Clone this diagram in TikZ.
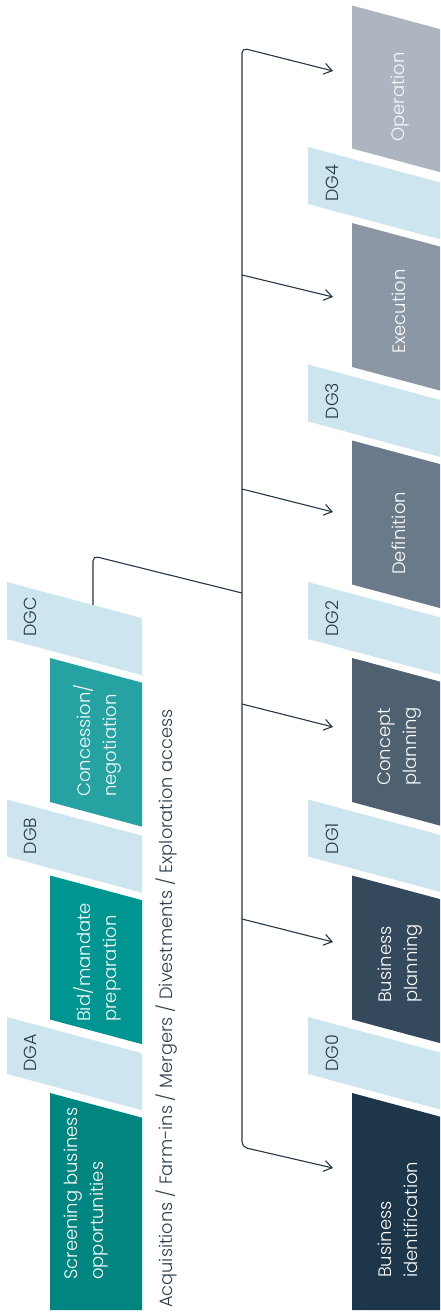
\documentclass[tikz,border=0pt]{standalone}
\usepackage{fontspec}
\setmainfont{Poppins}[UprightFont=* Light, BoldFont=* Regular]
\usetikzlibrary{arrows.meta}
\definecolor{cScreen}{HTML}{008580}
\definecolor{cBid}{HTML}{009590}
\definecolor{cConc}{HTML}{26A2A2}
\definecolor{cBand}{HTML}{CCE5EF}
\definecolor{cIdent}{HTML}{1D3649}
\definecolor{cPlan}{HTML}{35495D}
\definecolor{cConcept}{HTML}{4F6071}
\definecolor{cDef}{HTML}{6A7A8A}
\definecolor{cExec}{HTML}{8B97A4}
\definecolor{cOper}{HTML}{ADB5C1}
\definecolor{cDGtext}{HTML}{243746}
\definecolor{cMain}{HTML}{2D3E4E}
\definecolor{cLine}{HTML}{243746}
\newcommand\slantbox[5]{\fill[#5] (#1,#3) -- (#2,{#3+0.268*(#2-#1)}) -- (#2,{#3+#4+0.268*(#2-#1)}) -- (#1,{#3+#4}) -- cycle;}
\newcommand\slanttop[4]{\fill[#4] (#1,#3) -- (#2,{#3+0.268*(#2-#1)}) -- (#2,1310) -- (#1,1310) -- cycle;}
\begin{document}
\begin{tikzpicture}[x=1pt,y=-1pt,
  lbl/.style={rotate=90, anchor=west, inner sep=0pt, align=left, text=white, font=\fontsize{18}{26}\selectfont},
  dglbl/.style={rotate=90, anchor=west, inner sep=0pt, text=cDGtext, font=\fontsize{17.5}{20}\selectfont},
  mainlbl/.style={rotate=90, anchor=west, inner sep=0pt, text=cMain, font=\fontsize{17.8}{20}\selectfont},
  conn/.style={draw=cLine, line width=1.1pt, rounded corners=5pt},
  tip/.style={-{Straight Barb[length=8pt,width=11pt]}}
]
\useasboundingbox (0,0) rectangle (440,1313);
\clip (0,0) rectangle (440,1313);
% left column
\slantbox{7}{142}{582}{57}{cBand}
\slantbox{50}{142}{658}{144}{cConc}
\slantbox{7}{142}{799.5}{57}{cBand}
\slantbox{50}{142}{875.5}{144}{cBid}
\slantbox{7}{142}{1017}{57}{cBand}
\slanttop{50}{142}{1093}{cScreen}
% right column
\slantbox{352}{444}{5.5}{143}{cOper}
\slantbox{308}{444}{147}{57}{cBand}
\slantbox{352}{444}{223}{144}{cExec}
\slantbox{308}{444}{364.5}{57}{cBand}
\slantbox{352}{444}{440.5}{144}{cDef}
\slantbox{308}{444}{582}{57}{cBand}
\slantbox{352}{444}{658}{144}{cConcept}
\slantbox{308}{444}{799.5}{57}{cBand}
\slantbox{352}{444}{875.5}{144}{cPlan}
\slantbox{308}{444}{1017}{57}{cBand}
\slanttop{352}{444}{1093}{cIdent}
% labels left
\node[lbl] (screen) at (86,1280) {Screening business\\opportunities};
\node[lbl] (bid) at (97,1022) {Bid/mandate\\preparation};
\node[lbl] (conc) at (97,797) {Concession/\\negotiation};
\node[dglbl] (dgc) at (30.5,637) {DGC};
\node[dglbl] (dgb) at (30.5,854.5) {DGB};
\node[dglbl] (dga) at (30.5,1072) {DGA};
\node[mainlbl] (acq) at (166.5,1308) {Acquisitions / Farm-ins / Mergers / Divestments / Exploration access};
% labels right
\node[lbl] (ident) at (398,1278) {Business\\identification};
\node[lbl] (plan) at (400,1003) {Business\\planning};
\node[lbl] (concept) at (400,786) {Concept\\planning};
\node[lbl] (def) at (398.5,575) {Definition};
\node[lbl] (exec) at (398.5,354) {Execution};
\node[lbl, text=white!92!cOper] (oper) at (400.5,142) {Operation};
\node[dglbl] (dg4) at (332.5,202) {DG4};
\node[dglbl] (dg3) at (332.5,419.5) {DG3};
\node[dglbl] (dg2) at (332.5,637) {DG2};
\node[dglbl] (dg1) at (332.5,854.5) {DG1};
\node[dglbl] (dg0) at (332.5,1072) {DG0};
% connectors
\coordinate (spTop) at (242,48);
\coordinate (spBot) at (242,1147);
\coordinate (aOper) at (333,71);
\coordinate (aIdent) at (333,1168);
\coordinate (sExec) at (242,275);
\coordinate (aExec) at (333,297);
\coordinate (sDef) at (242,489);
\coordinate (aDef) at (333,512);
\coordinate (sConcept) at (242,704);
\coordinate (aConcept) at (333,727);
\coordinate (sPlan) at (242,919);
\coordinate (aPlan) at (333,942);
\coordinate (dgcTop) at (93,605);
\coordinate (dgcCorner) at (93,556);
\coordinate (sDGC) at (242,593);
\draw[conn, {Straight Barb[length=8pt,width=11pt]}-{Straight Barb[length=8pt,width=11pt]}] (aOper) -- (spTop) -- (spBot) -- (aIdent);
\draw[conn, tip] (sExec) -- (aExec);
\draw[conn, tip] (sDef) -- (aDef);
\draw[conn, tip] (sConcept) -- (aConcept);
\draw[conn, tip] (sPlan) -- (aPlan);
\draw[conn] (dgcTop) -- (dgcCorner) -- (sDGC);
\end{tikzpicture}
\end{document}
